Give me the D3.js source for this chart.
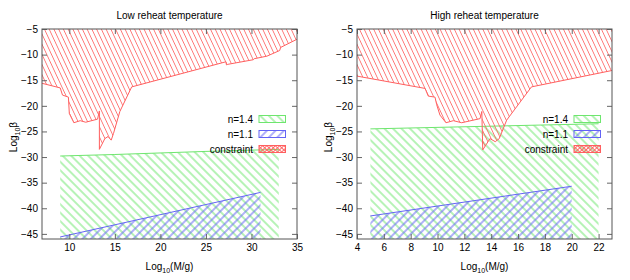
<!DOCTYPE html>
<html>
<head>
<meta charset="utf-8">
<script src="https://cdn.jsdelivr.net/npm/d3@7"></script>
<style>
  body { margin: 0; background: #fff; }
  text { font-family: "Liberation Sans", Arial, sans-serif; font-size: 10px; fill: #000; }
</style>
</head>
<body>
<div id="chart"></div>
<script>
//data
const yTicks = [-45, -40, -35, -30, -25, -20, -15, -10, -5];
const lowXTicks = [10, 15, 20, 25, 30, 35];
const highXTicks = [4, 6, 8, 10, 12, 14, 16, 18, 20, 22];

const lowN14 = [[9, -29.8], [15, -29.5], [25, -28.9], [33, -28.5]];
const lowN11 = [[9, -45.6], [31, -36.9]];
const lowConstraint = [[7, -15.6], [9.0, -16.5], [9.25, -17.9], [9.9, -18.3], [10.0, -21.5], [10.5, -23.3],
  [11.2, -22.9], [11.8, -23.2], [13.1, -22.6], [13.3, -21.0], [13.3, -28.5], [13.9, -26.4], [14.25, -26.0],
  [14.6, -26.7], [14.85, -25.4], [15.55, -21.1], [16.85, -16.3], [27.2, -11.4], [27.25, -12.0], [27.4, -11.9],
  [30.2, -11.0], [30.3, -10.8], [31.7, -10.3], [33.1, -9.2], [33.2, -8.6], [35, -7.0]];

const highN14 = [[5, -24.5], [22, -23.5]];
const highN11 = [[5, -41.5], [20, -35.7]];
const highConstraint = [[4, -14.2], [9.07, -16.6], [9.31, -18.1], [9.81, -18.3], [9.94, -19.8], [10.18, -21.8],
  [10.63, -23.3], [11.18, -22.9], [11.8, -23.3], [13.17, -22.5], [13.3, -21.1], [13.37, -28.6], [13.91, -26.4],
  [14.3, -27.0], [14.6, -26.4], [15.15, -22.8], [17.0, -16.3], [23, -13.1]];

const legendLabels = ["n=1.4", "n=1.1", "constraint"];

//size
const W = 630, H = 280, panelW = 315;
const margin = { top: 29, right: 18, bottom: 41, left: 42 },
  width = panelW - margin.left - margin.right,
  height = H - margin.top - margin.bottom;

const green = "rgb(110,230,110)", blue = "rgb(100,100,245)", red = "rgb(255,95,95)";

const svg = d3.select("#chart").append("svg").attr("width", W).attr("height", H);
const defs = svg.append("defs");

//hatch patterns
function hatch(id, color, gap, angle, sw) {
  const p = defs.append("pattern").attr("id", id)
    .attr("patternUnits", "userSpaceOnUse")
    .attr("width", gap).attr("height", gap)
    .attr("patternTransform", "rotate(" + angle + ")");
  p.append("line").attr("x1", gap / 2).attr("y1", 0).attr("x2", gap / 2).attr("y2", gap)
    .attr("stroke", color).attr("stroke-width", sw);
}
hatch("hGreen", green, 6, -45, 1);
hatch("hBlue", blue, 6, 45, 1);
hatch("hRed", red, 4.3, -25, 0.75);
hatch("hRedA", red, 3, 45, 0.9);
hatch("hRedB", red, 3, -45, 0.9);

function drawPanel(i, title, xDomain, xTicks, n14, n11, constraint) {
  const g = svg.append("g").attr("transform", "translate(" + (i * panelW + margin.left) + "," + margin.top + ")");
  const x = d3.scaleLinear().domain(xDomain).range([0, width]);
  const y = d3.scaleLinear().domain([-46, -5]).range([height, 0]);

  defs.append("clipPath").attr("id", "clip" + i)
    .append("rect").attr("width", width).attr("height", height);
  const plot = g.append("g").attr("clip-path", "url(#clip" + i + ")");

  const below = d3.area().x(d => x(d[0])).y0(y(-46)).y1(d => y(d[1]));
  const above = d3.area().x(d => x(d[0])).y0(y(-5)).y1(d => y(d[1]));
  const line = d3.line().x(d => x(d[0])).y(d => y(d[1]));

  plot.append("path").datum(n14).attr("d", below).attr("fill", "url(#hGreen)");
  plot.append("path").datum(n14).attr("d", line).attr("fill", "none").attr("stroke", green);
  plot.append("path").datum(n11).attr("d", below).attr("fill", "url(#hBlue)");
  plot.append("path").datum(n11).attr("d", line).attr("fill", "none").attr("stroke", blue);
  plot.append("path").datum(constraint).attr("d", above).attr("fill", "url(#hRed)");
  plot.append("path").datum(constraint).attr("d", line).attr("fill", "none").attr("stroke", red);

  //axes, gnuplot style ticks inside + mirrored
  const axes = [
    g.append("g").attr("transform", "translate(0," + height + ")").call(d3.axisBottom(x).tickValues(xTicks).tickSizeInner(-5).tickSizeOuter(0).tickPadding(5)),
    g.append("g").call(d3.axisTop(x).tickValues(xTicks).tickSizeInner(-5).tickSizeOuter(0).tickFormat("")),
    g.append("g").call(d3.axisLeft(y).tickValues(yTicks).tickSizeInner(-5).tickSizeOuter(0).tickPadding(4)),
    g.append("g").attr("transform", "translate(" + width + ",0)").call(d3.axisRight(y).tickValues(yTicks).tickSizeInner(-5).tickSizeOuter(0).tickFormat(""))
  ];
  axes.forEach(a => {
    a.select(".domain").remove();
    a.selectAll("line").attr("stroke", "#666");
    a.selectAll("text").attr("font-size", 10).attr("font-family", "Liberation Sans, Arial, sans-serif").attr("fill", "#000");
  });
  g.append("rect").attr("width", width).attr("height", height)
    .attr("fill", "none").attr("stroke", "#555");

  //legend
  const fills = ["url(#hGreen)", "url(#hBlue)", null];
  const strokes = [green, blue, red];
  legendLabels.forEach((lab, k) => {
    const cy = 90 + k * 15;
    g.append("text").attr("x", 211).attr("y", cy).attr("dy", "0.35em")
      .attr("text-anchor", "end").text(lab);
    if (fills[k]) {
      g.append("rect").attr("x", 217).attr("y", cy - 3.5).attr("width", 26.5).attr("height", 7)
        .attr("fill", fills[k]).attr("stroke", strokes[k]);
    } else {
      g.append("rect").attr("x", 217).attr("y", cy - 3.5).attr("width", 26.5).attr("height", 7).attr("fill", "url(#hRedA)");
      g.append("rect").attr("x", 217).attr("y", cy - 3.5).attr("width", 26.5).attr("height", 7)
        .attr("fill", "url(#hRedB)").attr("stroke", red);
    }
  });

  //titles
  g.append("text").attr("x", width / 2).attr("y", -14).attr("dy", "0.35em")
    .attr("text-anchor", "middle").text(title);
  const xl = g.append("text").attr("x", width / 2).attr("y", height + 27).attr("dy", "0.35em")
    .attr("text-anchor", "middle");
  xl.append("tspan").text("Log");
  xl.append("tspan").attr("font-size", 7).attr("dy", 3).text("10");
  xl.append("tspan").attr("dy", -3).text("(M/g)");
  const yl = g.append("text").attr("transform", "translate(-25," + (height / 2 + 3) + ") rotate(-90)")
    .attr("text-anchor", "middle");
  yl.append("tspan").text("Log");
  yl.append("tspan").attr("font-size", 7).attr("dy", 3).text("10");
  yl.append("tspan").attr("dy", -3).text("β");
}

drawPanel(0, "Low reheat temperature", [7, 35], lowXTicks, lowN14, lowN11, lowConstraint);
drawPanel(1, "High reheat temperature", [4, 23], highXTicks, highN14, highN11, highConstraint);
</script>
</body>
</html>
